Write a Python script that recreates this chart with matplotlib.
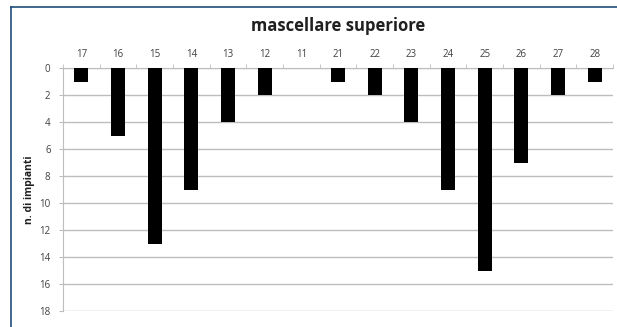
import matplotlib
matplotlib.use("Agg")
import matplotlib.pyplot as plt
import numpy as np

categories = ["17", "16", "15", "14", "13", "12", "11", "21", "22", "23", "24", "25", "26", "27", "28"]
values = [1, 5, 13, 9, 4, 2, 0, 1, 2, 4, 9, 15, 7, 2, 1]
yticks = [0, 2, 4, 6, 8, 10, 12, 14, 16, 18]

plt.rcParams['font.family'] = ['Open Sans', 'DejaVu Sans']

W, H = 617, 327
fig = plt.figure(figsize=(W / 100, H / 100), dpi=100)
fig.patch.set_facecolor("white")

# border (top and left visible)
fig.add_artist(plt.Line2D([11 / W, 1], [1 - 7 / H, 1 - 7 / H], color="#1f4e79", lw=1.2))
fig.add_artist(plt.Line2D([11 / W, 11 / W], [0, 1 - 7 / H], color="#1f4e79", lw=1.2))

left, right, top, bottom = 63, 613, 68, 311
ax = fig.add_axes([left / W, 1 - bottom / H, (right - left) / W, (bottom - top) / H])

x = np.arange(len(categories))
ax.bar(x, values, width=0.38, color="black", zorder=3)
ax.set_xlim(-0.5, len(categories) - 0.5)
ax.set_ylim(18, 0)
ax.set_yticks(yticks)
ax.yaxis.grid(True, color="#bdbdbd", lw=1)
ax.set_axisbelow(True)

ax.xaxis.tick_top()
ax.set_xticks(x)
ax.set_xticklabels(categories)
ax.set_xticks(np.arange(-0.5, len(categories), 1), minor=True)
ax.tick_params(axis="x", which="major", length=0, labelsize=7, colors="#404040", pad=6)
ax.tick_params(axis="x", which="minor", length=3, color="#bdbdbd", direction="out")
ax.tick_params(axis="y", length=3, color="#bdbdbd", labelsize=7, labelcolor="#404040", pad=6)

for s in ["right", "bottom"]:
    ax.spines[s].set_visible(False)
ax.spines["left"].set_color("#bdbdbd")
ax.spines["top"].set_color("#bdbdbd")

ax.set_ylabel("n. di impianti", fontsize=7.5, fontweight="bold", color="#202020", labelpad=3)
fig.text((left + right) / 2 / W, 1 - 26 / H, "mascellare superiore", ha="center", va="center",
         fontsize=12, fontweight="bold", color="#202020")

fig.savefig("out.png", dpi=100)
